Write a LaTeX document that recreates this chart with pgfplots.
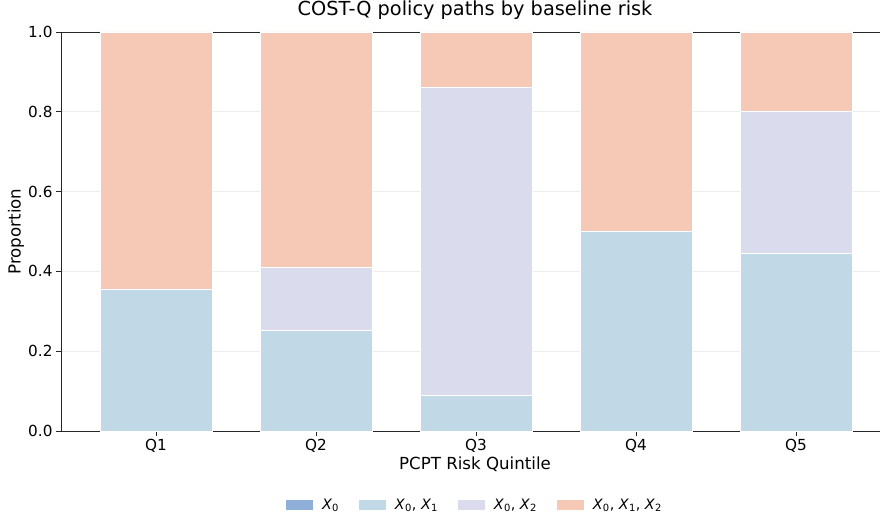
\documentclass[border=0pt]{standalone}
\usepackage{fontspec}
\setmainfont{DejaVu Sans}
\usepackage{pgfplots}
\pgfplotsset{compat=1.18}
\definecolor{cA}{HTML}{8FAFD9}
\definecolor{cB}{HTML}{C1D8E7}
\definecolor{cC}{HTML}{DADCED}
\definecolor{cD}{HTML}{F6C9B6}
\definecolor{spine}{HTML}{262626}
\newcommand{\X}[1]{\textit{X}\textsubscript{#1}}
\pgfplotsset{patchleg/.style={legend image code/.code={\fill[##1, draw=none] (0bp,-5bp) rectangle (27bp,5bp);}}}
\begin{document}
\begin{tikzpicture}
\begin{axis}[
  at={(0,0)}, anchor=south west,
  scale only axis, width=819bp, height=399bp,
  xmin=-0.594, xmax=4.525, ymin=0, ymax=1,
  ybar stacked, bar width=0.7,
  axis x line*=box, axis y line*=left,
  axis line style={spine, line width=0.8bp},
  xtick={0,1,2,3,4}, xticklabels={Q1,Q2,Q3,Q4,Q5},
  ytick={0,0.2,0.4,0.6,0.8,1.0},
  xtick pos=bottom, ytick pos=left,
  tick align=outside, major tick length=5bp,
  tick style={spine, line width=0.8bp},
  ymajorgrids, grid style={color=black!7, line width=0.8bp},
  yticklabel style={/pgf/number format/.cd, fixed, fixed zerofill, precision=1},
  /pgf/number format/assume math mode=true,
  tick label style={font=\fontsize{15.3}{18}\selectfont, text=black},
  label style={font=\fontsize{16.7}{20}\selectfont},
  xlabel={PCPT Risk Quintile},
  ylabel={Proportion},
  xlabel style={at={(axis description cs:0.5055,-0.0827)}, anchor=center},
  ylabel style={at={(axis description cs:-0.0549,0.5)}, anchor=center},
  title={COST-Q policy paths by baseline risk},
  title style={font=\fontsize{19.4}{23}\selectfont, at={(axis description cs:0.5055,1)}, anchor=base, yshift=11bp},
  legend columns=4,
  legend style={draw=none, fill=none, at={(axis description cs:0.5055,-0.1855)}, anchor=center,
    font=\fontsize{14.4}{17}\selectfont,
    /tikz/every odd column/.append style={column sep=7bp},
    /tikz/every even column/.append style={column sep=18bp}},
]
\addlegendimage{patchleg, fill=cA}
\addlegendentry{\X{0}}
\addplot+[fill=cB, draw=white, line width=0.8bp, patchleg] coordinates {(0,0.356) (1,0.251) (2,0.090) (3,0.500) (4,0.444)};
\addlegendentry{\X{0}, \X{1}}
\addplot+[fill=cC, draw=white, line width=0.8bp, patchleg] coordinates {(0,0) (1,0.158) (2,0.772) (3,0) (4,0.356)};
\addlegendentry{\X{0}, \X{2}}
\addplot+[fill=cD, draw=white, line width=0.8bp, patchleg] coordinates {(0,0.644) (1,0.591) (2,0.138) (3,0.500) (4,0.200)};
\addlegendentry{\X{0}, \X{1}, \X{2}}
\end{axis}
\pgfresetboundingbox
\path[use as bounding box] (-61bp,-83bp) rectangle (820bp,431bp);
\end{tikzpicture}
\end{document}
